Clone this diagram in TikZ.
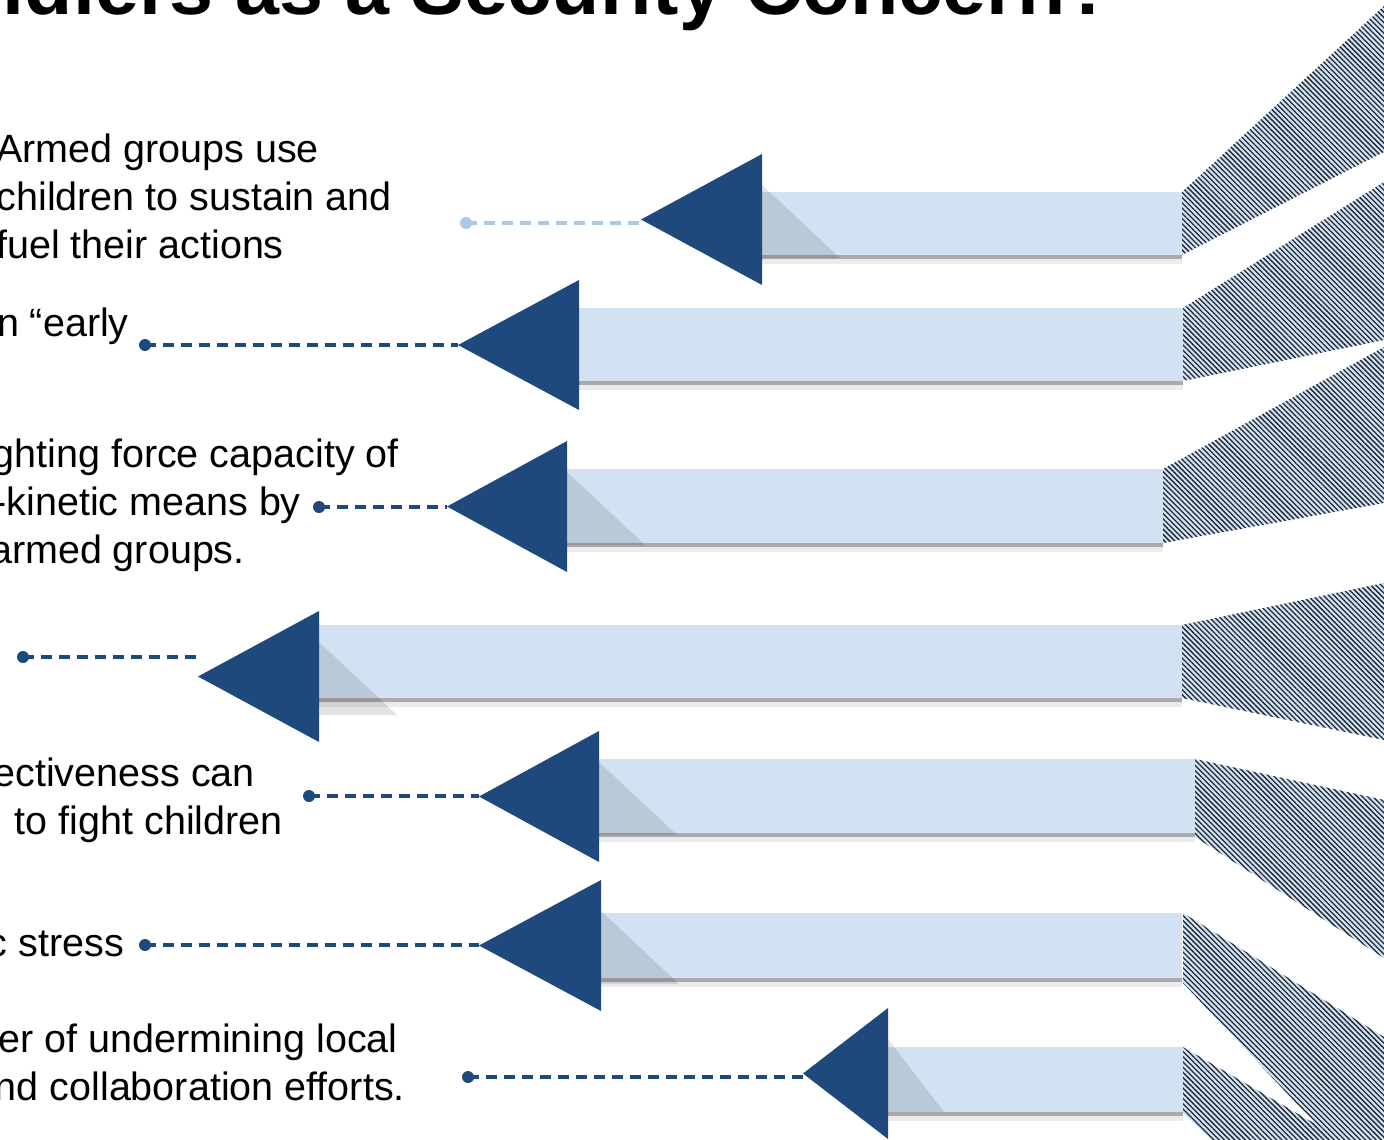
\documentclass[tikz,border=0pt]{standalone}
\usepackage{fontspec}
\setmainfont{Liberation Sans}
\usetikzlibrary{patterns.meta}
\definecolor{navy}{HTML}{1F497D}
\definecolor{barblue}{HTML}{D2E2F2}
\definecolor{dashlight}{HTML}{ADC8E6}
\definecolor{hatchdark}{HTML}{1C2530}
\definecolor{banddark}{HTML}{AAAAAA}
\definecolor{bandlight}{HTML}{EBEBEB}
\tikzset{
  headfill/.style={fill=navy},
  barfill/.style={fill=barblue},
  wedgefill/.style={fill=barblue, postaction={pattern={Lines[angle=-45,distance=3.7pt,line width=1.3pt]}, pattern color=hatchdark}},
  headshade/.style={fill=black, opacity=0.11},
  txt/.style={inner sep=0pt, font=\fontsize{39.5}{48}\selectfont, text=black},
  titletxt/.style={inner sep=0pt, font=\bfseries\fontsize{79}{90}\selectfont, text=black},
  leader/.style={line width=3.4pt, dash pattern=on 11pt off 7pt},
  dotmark/.style={circle, inner sep=0pt, minimum size=12pt},
}
% #1 tipx #2 backx #3 headtop #4 headbot #5 bartop #6 barbot #7 barright #8 shade width #9 name
\newcommand\HeadArrow[9]{%
  \fill[banddark] (#2,#6) rectangle (#7,#6+4);
  \fill[bandlight] (#2,#6+4) rectangle (#7,#6+9);
  \fill[barfill] (#2,#5) rectangle (#7,#6);
  \fill[headshade] (#2,#3+31) -- (#2+#8,#3+104) -- (#2,#3+104) -- cycle;
  \fill[headfill] (#1,{(#3+#4)/2}) -- (#2,#3) -- (#2,#4) -- cycle;
  \coordinate (tip#9) at (#1,{(#3+#4)/2});
}
\begin{document}
\begin{tikzpicture}[x=1pt,y=-1pt]
\useasboundingbox (0,0) rectangle (1384,1140);
\clip (0,0) rectangle (1384,1140);

% hatched wedges
\fill[wedgefill] (1182,192) -- (1384,6) -- (1384,152) -- (1182,255) -- cycle;
\fill[wedgefill] (1183,308) -- (1384,182) -- (1384,340) -- (1183,381) -- cycle;
\fill[wedgefill] (1163,469) -- (1384,347) -- (1384,503) -- (1163,543) -- cycle;
\fill[wedgefill] (1182,625) -- (1384,583) -- (1384,740) -- (1182,698) -- cycle;
\fill[wedgefill] (1195,759) -- (1384,800) -- (1384,958) -- (1195,837) -- cycle;
\fill[wedgefill] (1183,913) -- (1384,1037) -- (1384,1196) -- (1183,983) -- cycle;
\fill[wedgefill] (1183,1047) -- (1384,1164) -- (1384,1300) -- (1183,1113) -- cycle;

% arrows
\HeadArrow{641}{762}{154}{285}{192}{255}{1182}{78}{1}
\HeadArrow{458}{579}{280}{410}{308}{381}{1183}{0}{2}
\HeadArrow{447}{567}{441}{572}{469}{543}{1163}{78}{3}
\HeadArrow{198}{319}{611}{742}{625}{698}{1182}{78}{4}
\HeadArrow{479}{599}{731}{862}{759}{833}{1195}{78}{5}
\HeadArrow{479}{601}{880}{1011}{913}{978}{1182}{78}{6}
\HeadArrow{803}{888}{1008}{1139}{1047}{1112}{1183}{56}{7}

% leaders
\node[dotmark, fill=dashlight] (dot1) at (466,223) {};
\coordinate (end1) at (640,223);
\draw[leader, dashlight] (dot1.center) -- (end1);
\node[dotmark, fill=navy] (dot2) at (145,345) {};
\coordinate (end2) at (458,345);
\draw[leader, navy] (dot2.center) -- (end2);
\node[dotmark, fill=navy] (dot3) at (319,507) {};
\coordinate (end3) at (447,507);
\draw[leader, navy] (dot3.center) -- (end3);
\node[dotmark, fill=navy] (dot4) at (23,657) {};
\coordinate (end4) at (197,657);
\draw[leader, navy] (dot4.center) -- (end4);
\node[dotmark, fill=navy] (dot5) at (309,796) {};
\coordinate (end5) at (479,796);
\draw[leader, navy] (dot5.center) -- (end5);
\node[dotmark, fill=navy] (dot6) at (145,945) {};
\coordinate (end6) at (479,945);
\draw[leader, navy] (dot6.center) -- (end6);
\node[dotmark, fill=navy] (dot7) at (468,1077) {};
\coordinate (end7) at (803,1077);
\draw[leader, navy] (dot7.center) -- (end7);

% texts
\node[titletxt, anchor=base east] (title) at (1114,15) {ldiers as a Security Concern?};
\node[txt, anchor=base east] (t1a) at (319,162) {Armed groups use};
\node[txt, anchor=base east] (t1b) at (392,210) {children to sustain and};
\node[txt, anchor=base east] (t1c) at (284,258) {fuel their actions};
\node[txt, anchor=base east] (t2a) at (129,336) {n “early};
\node[txt, anchor=base east] (t3a) at (399,467) {ghting force capacity of};
\node[txt, anchor=base east] (t3b) at (301,515) {-kinetic means by};
\node[txt, anchor=base east] (t3c) at (245,563) {armed groups.};
\node[txt, anchor=base east] (t5a) at (255,786) {ectiveness can};
\node[txt, anchor=base east] (t5b) at (283,834) {to fight children};
\node[txt, anchor=base east] (t6a) at (124,956) {c stress};
\node[txt, anchor=base east] (t7a) at (398,1052) {er of undermining local};
\node[txt, anchor=base east] (t7b) at (405,1100) {nd collaboration efforts.};
\end{tikzpicture}
\end{document}
